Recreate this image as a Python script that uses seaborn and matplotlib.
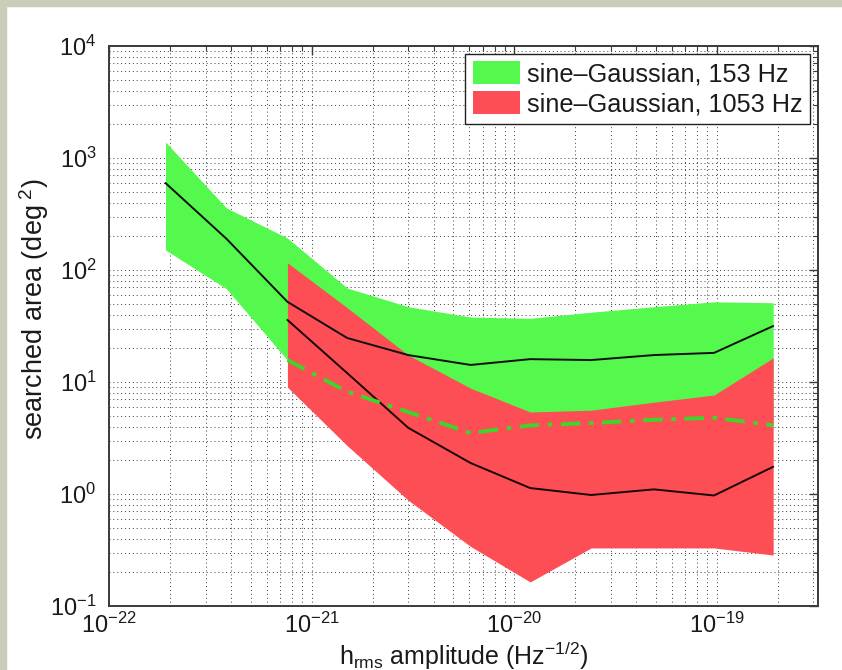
import numpy as np
import pandas as pd
import matplotlib
matplotlib.use("Agg")
import matplotlib.pyplot as plt
from matplotlib.patches import Patch, Rectangle
from matplotlib.ticker import LogLocator, LogFormatterSciNotation
import seaborn as sns

# h_rms amplitudes (Hz^-1/2) of the injections
h_rms = [1.9e-22, 3.8e-22, 7.6e-22, 1.5e-21, 3.0e-21, 6.1e-21,
         1.2e-20, 2.4e-20, 4.9e-20, 9.7e-20, 1.9e-19]

# 153 Hz sine-Gaussian: searched area (deg^2)
sg153_upper = [1390, 358, 193, 69, 47, 38, 37, 42, 47, 52, 51]
sg153_median = [598, 190, 52, 24.7, 17.4, 14.2, 16.0, 15.7, 17.4, 18.2, 31.6]
sg153_lower = [151, 68, 15.7, 8.2, 5.4, 3.5, 4.1, 4.3, 4.6, 4.8, 4.1]

# 1053 Hz sine-Gaussian starts at the third amplitude
h_rms_1053 = h_rms[2:]
sg1053_upper = [116, 46, 17.4, 8.8, 5.4, 5.6, 6.6, 7.65, 16.4]
sg1053_median = [35.8, 12.0, 3.9, 1.89, 1.13, 0.98, 1.1, 0.97, 1.75]
sg1053_lower = [9.0, 2.7, 0.88, 0.34, 0.164, 0.33, 0.33, 0.33, 0.285]

labels = ["sine\u2013Gaussian, 153 Hz", "sine\u2013Gaussian, 1053 Hz"]

green_fill = "#55f84c"
red_fill = "#fd4d55"
green_line = "#3ed62a"

sns.set_theme(style="white")
plt.rcParams["font.family"] = ["Liberation Sans", "DejaVu Sans"]
plt.rcParams["mathtext.fontset"] = "custom"
plt.rcParams["mathtext.rm"] = "Liberation Sans"
plt.rcParams["mathtext.it"] = "Liberation Sans:italic"
plt.rcParams["mathtext.bf"] = "Liberation Sans:bold"

df153 = pd.DataFrame({"h": h_rms, "upper": sg153_upper,
                      "median": sg153_median, "lower": sg153_lower})
df1053 = pd.DataFrame({"h": h_rms_1053, "upper": sg1053_upper,
                       "median": sg1053_median, "lower": sg1053_lower})

fig = plt.figure(figsize=(8.42, 6.70), dpi=100, facecolor="white")
W, H = 842, 670
ax = fig.add_axes([109 / W, 1 - 606 / H, 709 / W, 560 / H])

# grey page margin along the top and left edges
frame_col = "#c9ceb8"
fig.patches.append(Rectangle((0, 0), 6 / W, 1, transform=fig.transFigure,
                             color=frame_col, zorder=-5))
fig.patches.append(Rectangle((0, 1 - 6 / H), 1, 6 / H, transform=fig.transFigure,
                             color=frame_col, zorder=-5))

ax.set_xscale("log")
ax.set_yscale("log")

ax.fill_between(df153["h"], df153["lower"], df153["upper"],
                color=green_fill, linewidth=0, zorder=2)
ax.fill_between(df1053["h"], df1053["lower"], df1053["upper"],
                color=red_fill, linewidth=0, zorder=3)

sns.lineplot(data=df153, x="h", y="median", ax=ax, color="#101010",
             linewidth=1.4, estimator=None, sort=False, zorder=4)
sns.lineplot(data=df1053, x="h", y="median", ax=ax, color="#1a0505",
             linewidth=1.4, estimator=None, sort=False, zorder=4)
# lower edge of the 153 Hz band where it lies under the 1053 Hz band
sns.lineplot(data=df153.iloc[2:], x="h", y="lower", ax=ax, color=green_line,
             linewidth=2.8, linestyle=(0, (5, 2.2, 1.2, 2.2)),
             estimator=None, sort=False, zorder=5)

ax.set_xlim(1e-22, 10 ** -18.5)
ax.set_ylim(1e-1, 1e4)

for axis in (ax.xaxis, ax.yaxis):
    axis.set_major_locator(LogLocator(base=10, numticks=20))
    axis.set_minor_locator(LogLocator(base=10, subs=np.arange(2, 10), numticks=20))
    axis.set_major_formatter(LogFormatterSciNotation())

ax.set_axisbelow(True)
ax.grid(True, which="both", color="#3a3a3a", linewidth=0.7,
        linestyle=(0, (1, 3)))

for sp in ax.spines.values():
    sp.set_color("#3a3a3a")
    sp.set_linewidth(1.4)

ax.tick_params(which="both", direction="in", top=True, right=True,
               color="#3a3a3a", labelsize=17, labelcolor="#1a1a1a")
ax.tick_params(which="major", length=6.5, width=1.0)
ax.tick_params(which="minor", length=3.5, width=0.8)
ax.tick_params(axis="x", which="major", pad=5)
ax.tick_params(axis="y", which="major", pad=9)

ax.set_xlabel(r"h$_{\rm rms}$ amplitude (Hz$^{-1/2}$)", fontsize=18, color="#1a1a1a")
ax.set_ylabel(r"searched area (deg$^{\ 2}$)", fontsize=19.5, color="#1a1a1a")
ax.xaxis.set_label_coords(0.5, -0.06)
ax.yaxis.set_label_coords(-0.082, 0.53)

handles = [Patch(facecolor=green_fill, edgecolor="none"),
           Patch(facecolor=red_fill, edgecolor="none")]
leg = ax.legend(handles, labels, loc="upper right", fontsize=18.2,
                frameon=True, fancybox=False, framealpha=1,
                edgecolor="#202020", borderaxespad=0.3,
                handlelength=1.85, handleheight=1.0, handletextpad=0.3,
                labelspacing=0.2, borderpad=0.3)
leg.get_frame().set_linewidth(1.0)
for t in leg.get_texts():
    t.set_color("#1a1a1a")

fig.savefig("out.png", dpi=100, facecolor=fig.get_facecolor())
